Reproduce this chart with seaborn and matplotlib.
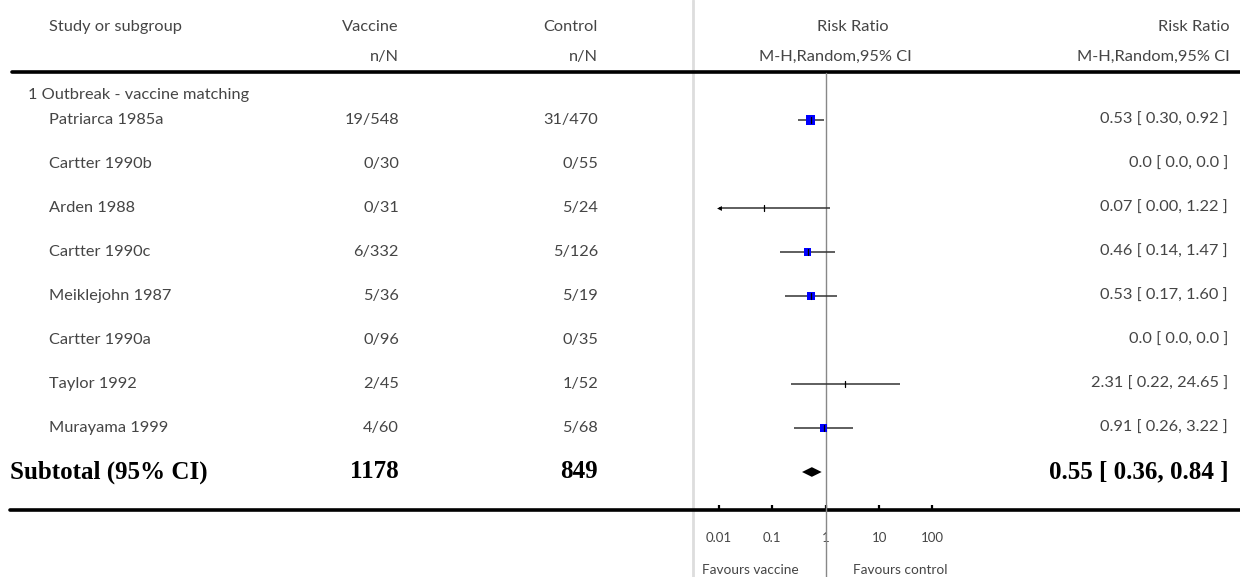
import numpy as np
import pandas as pd
import matplotlib
matplotlib.use("Agg")
import matplotlib.pyplot as plt
import seaborn as sns

# ---- data -------------------------------------------------------------
studies = ["Patriarca 1985a", "Cartter 1990b", "Arden 1988", "Cartter 1990c",
           "Meiklejohn 1987", "Cartter 1990a", "Taylor 1992", "Murayama 1999"]
vaccine_nN = ["19/548", "0/30", "0/31", "6/332", "5/36", "0/96", "2/45", "4/60"]
control_nN = ["31/470", "0/55", "5/24", "5/126", "5/19", "0/35", "1/52", "5/68"]
rr = [0.53, np.nan, 0.07, 0.46, 0.53, np.nan, 2.31, 0.91]
rr_low = [0.30, np.nan, 0.00, 0.14, 0.17, np.nan, 0.22, 0.26]
rr_high = [0.92, np.nan, 1.22, 1.47, 1.60, np.nan, 24.65, 3.22]
rr_text = ["0.53 [ 0.30, 0.92 ]", "0.0 [ 0.0, 0.0 ]", "0.07 [ 0.00, 1.22 ]",
           "0.46 [ 0.14, 1.47 ]", "0.53 [ 0.17, 1.60 ]", "0.0 [ 0.0, 0.0 ]",
           "2.31 [ 0.22, 24.65 ]", "0.91 [ 0.26, 3.22 ]"]
weights = [40.4, np.nan, 3.3, 16.5, 17.8, np.nan, 6.9, 15.1]

subgroup = "1 Outbreak - vaccine matching"
total_vaccine = "1178"
total_control = "849"
pooled = 0.55
pooled_low = 0.36
pooled_high = 0.84
pooled_text = "0.55 [ 0.36, 0.84 ]"

ticks = [0.01, 0.1, 1, 10, 100]
tick_labels = ["0.01", "0.1", "1", "10", "100"]
favours = ["Favours vaccine", "Favours control"]

# ---- layout -------------------------------------------------------------
W, H = 1240, 577
sns.set_theme(style="white")
plt.rcParams["font.family"] = ["Lato", "DejaVu Sans"]

fig = plt.figure(figsize=(W / 100, H / 100), dpi=100)
TXT = "#454545"
SERIF = ["Liberation Serif", "DejaVu Serif"]

row0, step = 120, 44           # pixel y of the first row and row spacing
def py(pix):                   # pixel y -> row units
    return (pix - row0) / step

# full-figure table axes: x in pixels, y in row units
tab = fig.add_axes([0, 0, 1, 1])
tab.set_xlim(0, W)
tab.set_ylim(py(H), py(0))
tab.axis("off")

# forest panel axes (log scale), bottom edge is the axis line
px_left, px_right, px_top, px_bot = 693, 958, 72, 510
fax = fig.add_axes([px_left / W, (H - px_bot) / H,
                    (px_right - px_left) / W, (px_bot - px_top) / H])
fax.set_xscale("log")
dec = 53.35
fax.set_xlim(10 ** ((px_left - 825.7) / dec), 10 ** ((px_right - 825.7) / dec))
fax.set_ylim(py(px_bot), py(px_top))
fax.patch.set_alpha(0)
for s in fax.spines.values():
    s.set_visible(False)
fax.set_yticks([])
fax.set_xticks(ticks)
fax.set_xticklabels(tick_labels, fontsize=9.5, color=TXT)
fax.xaxis.set_minor_locator(matplotlib.ticker.NullLocator())
fax.tick_params(axis="x", direction="in", length=3.8, width=1.6, color="black",
                pad=16, bottom=True)

# light separator at the left of the forest panel
tab.plot([px_left, px_left], [py(0), py(H)], color="#dddddd", lw=2, zorder=1)

# reference line at RR = 1
fax.plot([1, 1], [py(px_top + 1), py(H)], color="#888888", lw=1,
         clip_on=False, zorder=2)

# horizontal rules
tab.plot([12, W], [py(72), py(72)], color="black", lw=2.6, zorder=3)
tab.plot([10, W], [py(510), py(510)], color="black", lw=2.6, zorder=3)

# ---- header -------------------------------------------------------------
hdr = dict(fontsize=11.8, color=TXT, va="center")
tab.text(49, py(27), "Study or subgroup", ha="left", **hdr)
tab.text(399, py(27), "Vaccine", ha="right", **hdr)
tab.text(399, py(57), "n/N", ha="right", **hdr)
tab.text(598, py(27), "Control", ha="right", **hdr)
tab.text(598, py(57), "n/N", ha="right", **hdr)
tab.text(853, py(27), "Risk Ratio", ha="center", **hdr)
tab.text(835, py(57), "M-H,Random,95% CI", ha="center", **hdr)
tab.text(1230, py(27), "Risk Ratio", ha="right", **hdr)
tab.text(1230, py(57), "M-H,Random,95% CI", ha="right", **hdr)
tab.text(28, py(95), subgroup, ha="left", **hdr)

# ---- study rows ---------------------------------------------------------
rows = np.arange(len(studies))
for i in rows:
    tab.text(49, i, studies[i], ha="left", **hdr)
    tab.text(399, i, vaccine_nN[i], ha="right", **hdr)
    tab.text(598, i, control_nN[i], ha="right", **hdr)
    tab.text(1228, i, rr_text[i], ha="right", **hdr)

df = pd.DataFrame({"row": rows, "rr": rr, "lo": rr_low, "hi": rr_high,
                   "w": weights})
xmin_draw = ticks[0]
for r in df.dropna().itertuples():
    lo = max(r.lo, xmin_draw)
    fax.plot([lo, r.hi], [r.row, r.row], color="#333333", lw=1.1, zorder=3,
             solid_capstyle="butt")
    if r.lo < xmin_draw:
        fax.plot([lo], [r.row], marker="<", ms=3.5, color="black",
                 markeredgewidth=0, zorder=4)
    fax.plot([r.rr, r.rr], [r.row - 0.07, r.row + 0.07], color="black",
             lw=0.9, zorder=5)

# weight squares (studies with very small weight show only the tick)
sq = df.dropna()
sq = sq[sq.w >= 10]
sns.scatterplot(data=sq, x="rr", y="row", size="w", sizes=(26, 42),
                marker="s", color="#0000ff", edgecolor="none", legend=False,
                ax=fax, zorder=4)

# ---- subtotal -----------------------------------------------------------
ys = len(studies)
bold = dict(fontsize=18, color="black", va="center", family=SERIF,
            fontweight="bold")
tab.text(10, ys, "Subtotal (95% CI)", ha="left", **bold)
tab.text(399, ys, total_vaccine, ha="right", **bold)
tab.text(598, ys, total_control, ha="right", **bold)
tab.text(1229, ys, pooled_text, ha="right", **bold)
dh = 0.11
fax.fill([pooled_low, pooled, pooled_high, pooled],
         [ys, ys - dh, ys, ys + dh], color="black", lw=0, zorder=5)

fax.set_xlabel("")
fax.set_ylabel("")

# favours labels
tab.text(750, py(570), favours[0], ha="center", va="center", fontsize=9.8,
         color=TXT)
tab.text(900, py(570), favours[1], ha="center", va="center", fontsize=9.8,
         color=TXT)

fig.savefig("out.png", dpi=100)
